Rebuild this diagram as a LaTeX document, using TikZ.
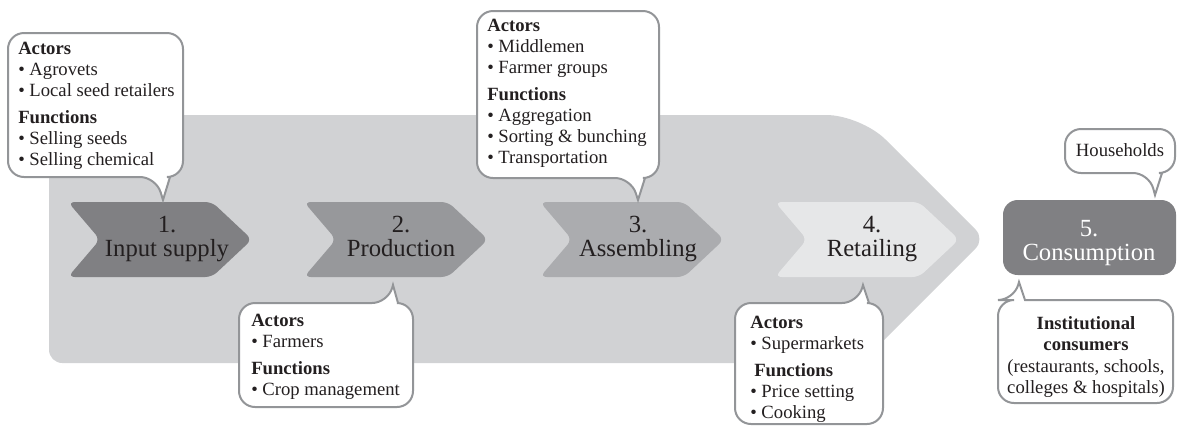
\documentclass[tikz,border=0pt]{standalone}
\usepackage{fontspec}
\setmainfont{Liberation Serif}
\usepackage{xcolor}

\tikzset{
  chev/.style={draw=none, rounded corners=5},
  bubble/.style={draw={rgb, 255:red, 147; green, 149; blue, 152}, line width=1.5pt, fill=white},
  stagetext/.style={inner sep=0pt, align=center, font=\fontsize{18.5}{18}\selectfont, text={rgb, 255:red, 35; green, 31; blue, 32}},
  notetext/.style={inner sep=0pt, align=left, anchor=north west, font=\fontsize{14}{15.75}\selectfont, text={rgb, 255:red, 35; green, 31; blue, 32}}
}

\begin{document}
\begin{tikzpicture}[x=0.75pt,y=0.75pt,yscale=-1,xscale=1]
    \useasboundingbox (0,0) rectangle (1177,426);

    %Shape: Big arrow
    \draw [draw=none, fill={rgb, 255:red, 209; green, 210; blue, 212}] (49,115) [rounded corners=26] -- (861,115) [rounded corners=10] -- (985,239) -- (861,363) -- (49,363) -- cycle ;

    %Shape: Chevron 1
    \draw [chev, fill={rgb, 255:red, 128; green, 128; blue, 131}] (68,202) -- ++(144,0) -- ++(40,37.5) -- ++(-40,37.5) -- ++(-144,0) -- ++(32,-37.5) -- cycle ;
    %Shape: Chevron 2
    \draw [chev, fill={rgb, 255:red, 151; green, 152; blue, 155}] (304,202) -- ++(144,0) -- ++(40,37.5) -- ++(-40,37.5) -- ++(-144,0) -- ++(32,-37.5) -- cycle ;
    %Shape: Chevron 3
    \draw [chev, fill={rgb, 255:red, 171; green, 172; blue, 175}] (540,202) -- ++(144,0) -- ++(40,37.5) -- ++(-40,37.5) -- ++(-144,0) -- ++(32,-37.5) -- cycle ;
    %Shape: Chevron 4
    \draw [chev, fill={rgb, 255:red, 230; green, 231; blue, 232}] (775,202) -- ++(144,0) -- ++(40,37.5) -- ++(-40,37.5) -- ++(-144,0) -- ++(32,-37.5) -- cycle ;
    %Shape: Rounded Rect
    \draw [draw=none, fill={rgb, 255:red, 128; green, 128; blue, 131}, rounded corners=11] (1003,200) rectangle (1176,275) ;

    %Shape: Callout 1
    \draw [bubble] (163,200) -- (170,177) [rounded corners=12] -- (183,177) -- (183,33) -- (8,33) -- (8,177) -- (156,177) [sharp corners] -- cycle ;
    %Shape: Callout 2
    \draw [bubble] (393,285) -- (398,303) [rounded corners=12] -- (413,303) -- (413,407) -- (239,407) -- (239,303) -- (388,303) [sharp corners] -- cycle ;
    %Shape: Callout 3
    \draw [bubble] (638,200) -- (645,178) [rounded corners=12] -- (659,178) -- (659,11) -- (477,11) -- (477,178) -- (631,178) [sharp corners] -- cycle ;
    %Shape: Callout 4
    \draw [bubble] (863,285) -- (869,303) [rounded corners=12] -- (883,303) -- (883,424) -- (735,424) -- (735,303) -- (858,303) [sharp corners] -- cycle ;
    %Shape: Callout 5a
    \draw [bubble] (1155,195) -- (1162,173) [rounded corners=12] -- (1175,173) -- (1175,129) -- (1065,129) -- (1065,173) -- (1149,173) [sharp corners] -- cycle ;
    %Shape: Callout 5b
    \draw [bubble] (1019,282) -- (1025,300) [rounded corners=12] -- (1173,300) -- (1173,403) -- (998,403) -- (998,300) -- (1014,300) [sharp corners] -- cycle ;

    % Text Node
    \draw (167,239.4) node (inp) [stagetext] {1.\\Input supply};
    % Text Node
    \draw (401,236.6) node (prod) [stagetext] {2.\\Production};
    % Text Node
    \draw (638,239.4) node (asm) [stagetext] {3.\\Assembling};
    % Text Node
    \draw (872,239.4) node (ret) [stagetext] {4.\\Retailing};
    % Text Node
    \draw (1089,242.8) node (cons) [stagetext, text=white] {5.\\Consumption};

    % Text Node
    \draw (18,41.7) node (inpnote) [notetext] {\textbf{Actors}\\\textbullet\ Agrovets\\\textbullet\ Local seed retailers\\[4.5pt]\textbf{Functions}\\\textbullet\ Selling seeds\\\textbullet\ Selling chemical};
    % Text Node
    \draw (251,313.7) node (prodnote) [notetext] {\textbf{Actors}\\\textbullet\ Farmers\\[4.5pt]\textbf{Functions}\\\textbullet\ Crop management};
    % Text Node
    \draw (487,18.7) node (asmnote) [notetext] {\textbf{Actors}\\\textbullet\ Middlemen\\\textbullet\ Farmer groups\\[4.5pt]\textbf{Functions}\\\textbullet\ Aggregation\\\textbullet\ Sorting \& bunching\\\textbullet\ Transportation};
    % Text Node
    \draw (750,315.7) node (retnote) [notetext] {\textbf{Actors}\\\textbullet\ Supermarkets\\[4.5pt]\hspace{3pt}\textbf{Functions}\\\textbullet\ Price setting\\\textbullet\ Cooking};
    % Text Node
    \draw (1120,150) node (house) [notetext, anchor=center] {Households};
    % Text Node
    \draw (1086,316) node (inst) [notetext, anchor=north, align=center] {\textbf{Institutional}\\\textbf{consumers}\\[1pt](restaurants, schools,\\colleges \& hospitals)};

\end{tikzpicture}
\end{document}
